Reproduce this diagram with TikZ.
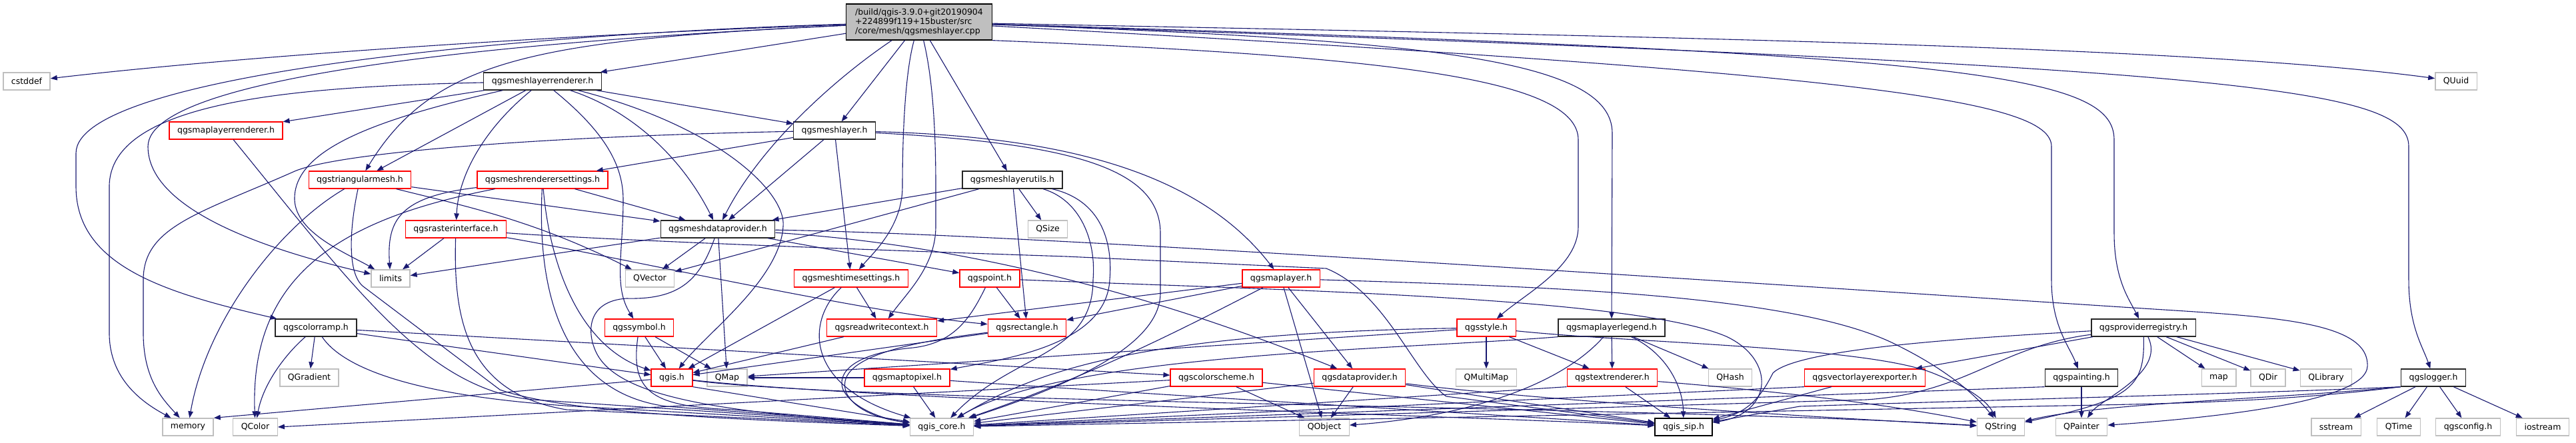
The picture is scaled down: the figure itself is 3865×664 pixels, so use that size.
\documentclass[tikz,border=0pt]{standalone}
\usepackage{fontspec}
\setmainfont{DejaVu Sans}
\usepackage{tikz}
\usetikzlibrary{arrows.meta}
\definecolor{incblue}{HTML}{191970}
\definecolor{extgray}{HTML}{BFBFBF}

\begin{document}
\begin{tikzpicture}[x=1pt,y=-1pt,
    hdr/.style={draw, line width=1.3pt, minimum height=26pt, inner xsep=12pt, inner ysep=0pt, font=\fontsize{12.5}{15}\selectfont},
    sysfile/.style={hdr, draw=extgray},
    docfile/.style={hdr, draw=black!85},
    cutfile/.style={hdr, draw=red},
    inc/.style={draw=incblue, line width=1.1pt, -{Triangle[length=10pt,width=7.5pt]}}]
  \useasboundingbox (0,0) rectangle (3865,664);

  \node[hdr, draw=black, fill=extgray, align=left, minimum width=219pt, minimum height=54pt, font=\fontsize{12.5}{14.3}\selectfont] (root) at (1379,33) {/build/qgis-3.9.0+git20190904\\+224899f119+15buster/src\\/core/mesh/qgsmeshlayer.cpp};

  \node[sysfile] (cstddef) at (40,122) {cstddef};
  \node[docfile] (mlrend) at (814,122) {qgsmeshlayerrenderer.h};
  \node[sysfile] (quuid) at (3685,122) {QUuid};
  \node[cutfile] (mapren) at (339,196) {qgsmaplayerrenderer.h};
  \node[docfile] (mlayer) at (1252,196) {qgsmeshlayer.h};
  \node[cutfile] (trimesh) at (540,270) {qgstriangularmesh.h};
  \node[cutfile] (rendset) at (814,270) {qgsmeshrenderersettings.h};
  \node[docfile] (mlutils) at (1519,270) {qgsmeshlayerutils.h};
  \node[cutfile] (rastif) at (684,344) {qgsrasterinterface.h};
  \node[docfile] (mdp) at (1077,344) {qgsmeshdataprovider.h};
  \node[sysfile] (qsize) at (1572,344) {QSize};
  \node[sysfile] (limits) at (586,418) {limits};
  \node[sysfile] (qvector) at (975,418) {QVector};
  \node[cutfile] (mts) at (1277,418) {qgsmeshtimesettings.h};
  \node[cutfile] (qpoint) at (1485,418) {qgspoint.h};
  \node[cutfile] (maplayer) at (1922,418) {qgsmaplayer.h};
  \node[docfile] (colorramp) at (474,492) {qgscolorramp.h};
  \node[cutfile] (symbol) at (959,492) {qgssymbol.h};
  \node[cutfile] (rwctx) at (1323,492) {qgsreadwritecontext.h};
  \node[cutfile] (rect) at (1541,492) {qgsrectangle.h};
  \node[cutfile] (style) at (2230,492) {qgsstyle.h};
  \node[docfile] (legend) at (2418,492) {qgsmaplayerlegend.h};
  \node[docfile] (provreg) at (3216,492) {qgsproviderregistry.h};
  \node[sysfile] (qgradient) at (464,567) {QGradient};
  \node[cutfile] (qgis) at (1008,567) {qgis.h};
  \node[sysfile] (qmap) at (1091,567) {QMap};
  \node[cutfile] (maptopix) at (1361,567) {qgsmaptopixel.h};
  \node[cutfile] (colorscheme) at (1825,567) {qgscolorscheme.h};
  \node[cutfile] (dataprov) at (2040,567) {qgsdataprovider.h};
  \node[sysfile] (qmultimap) at (2230,567) {QMultiMap};
  \node[cutfile] (textren) at (2419,567) {qgstextrenderer.h};
  \node[sysfile] (qhash) at (2596,567) {QHash};
  \node[cutfile] (vlexp) at (2798,567) {qgsvectorlayerexporter.h};
  \node[docfile] (painting) at (3123,567) {qgspainting.h};
  \node[sysfile] (mapstl) at (3329,567) {map};
  \node[sysfile] (qdir) at (3403,567) {QDir};
  \node[sysfile] (qlib) at (3490,567) {QLibrary};
  \node[docfile] (logger) at (3651,567) {qgslogger.h};
  \node[sysfile] (memory) at (282,641) {memory};
  \node[sysfile] (qcolor) at (383,641) {QColor};
  \node[sysfile] (qgiscore) at (1413,641) {qgis\_core.h};
  \node[sysfile] (qobject) at (1987,641) {QObject};
  \node[hdr, draw=black] (qgissip) at (2526,641) {qgis\_sip.h};
  \node[sysfile] (qstring) at (3002,641) {QString};
  \node[sysfile] (qpainter) at (3123,641) {QPainter};
  \node[sysfile] (sstream) at (3505,641) {sstream};
  \node[sysfile] (qtime) at (3599,641) {QTime};
  \node[sysfile] (qgsconfig) at (3703,641) {qgsconfig.h};
  \node[sysfile] (iostream) at (3815,641) {iostream};

  \foreach \a/\b in {root/mlrend, root/mlayer, root/mlutils,
      mlrend/mapren, mlrend/trimesh, mlrend/mlayer,
      mlayer/rendset, mlayer/mdp, mlayer/mts,
      trimesh/mdp, rendset/mdp, rastif/limits,
      mdp/qvector, mdp/qmap, mdp/qpoint, mdp/limits,
      mlutils/mdp, mlutils/qvector, mlutils/qsize, mlutils/rect,
      mts/rwctx, mts/qgis, qpoint/rect, rwctx/qgis, rect/qgis,
      symbol/qgis, symbol/qmap,
      colorramp/qgradient, colorramp/qgis, colorramp/colorscheme,
      maptopix/qgiscore, maptopix/qmap,
      colorscheme/qobject, colorscheme/qgiscore, colorscheme/qgissip,
      maplayer/rwctx, maplayer/rect, maplayer/qobject, maplayer/dataprov,
      style/qmultimap, style/textren, style/qmap,
      legend/textren, legend/qhash,
      dataprov/qobject, dataprov/qgiscore, dataprov/qgissip,
      textren/qgissip, vlexp/qgissip, painting/qpainter,
      provreg/vlexp, provreg/mapstl, provreg/qdir, provreg/qlib,
      logger/sstream, logger/qtime, logger/qgsconfig, logger/iostream}
    \draw[inc] (\a) -- (\b);

  \draw[inc] (root) .. controls (900,50) and (400,80) .. (cstddef);
  \draw[inc] (root) .. controls (800,50) and (114,110) .. (114,230) -- (114,280) .. controls (114,400) and (250,440) .. (colorramp);
  \draw[inc] (root) .. controls (800,60) and (222,110) .. (222,220) .. controls (222,320) and (420,380) .. (limits);
  \draw[inc] (root) .. controls (800,60) and (650,90) .. (trimesh);
  \draw[inc] (root) .. controls (1250,120) and (1140,220) .. (mdp);
  \draw[inc] (root) .. controls (1355,120) and (1354,240) .. (1354,280) .. controls (1354,340) and (1310,380) .. (mts);
  \draw[inc] (root) .. controls (1400,120) and (1404,200) .. (1404,280) -- (1404,340) .. controls (1404,400) and (1360,440) .. (rwctx);
  \draw[inc] (root.south east) .. controls (2100,85) and (2368,120) .. (2368,210) -- (2368,340) .. controls (2368,400) and (2290,440) .. (style);
  \draw[inc] (root) .. controls (2150,60) and (2419,90) .. (2419,200) -- (legend);
  \draw[inc] (root) .. controls (2800,110) and (3078,150) .. (3078,220) -- (3078,420) .. controls (3078,490) and (3105,520) .. (painting);
  \draw[inc] (root) .. controls (2950,80) and (3172,110) .. (3172,210) -- (3172,350) .. controls (3172,420) and (3195,450) .. (provreg);
  \draw[inc] (root) .. controls (3350,100) and (3614,130) .. (3614,220) -- (3614,420) .. controls (3614,490) and (3635,520) .. (logger);
  \draw[inc] (root) .. controls (2500,55) and (3300,70) .. (quuid);

  \draw[inc] (mlrend) .. controls (450,130) and (164,150) .. (164,280) -- (164,500) .. controls (164,570) and (215,605) .. (memory);
  \draw[inc] (mlrend) .. controls (560,180) and (440,225) .. (442,300) .. controls (444,350) and (520,380) .. (limits);
  \draw[inc] (mlrend) .. controls (730,190) and (688,260) .. (rastif);
  \draw[inc] (mlrend) .. controls (910,200) and (935,250) .. (935,300) .. controls (935,380) and (920,430) .. (symbol);
  \draw[inc] (mlrend) .. controls (960,170) and (1030,250) .. (mdp);
  \draw[inc] (mlrend) .. controls (1080,190) and (1180,290) .. (1175,340) .. controls (1170,420) and (1060,500) .. (qgis);

  \draw[inc] (mlayer) .. controls (800,205) and (500,230) .. (440,258) .. controls (300,320) and (215,340) .. (215,420) -- (215,500) .. controls (215,570) and (245,600) .. (memory);
  \draw[inc] (mlayer) .. controls (1600,205) and (1800,260) .. (maplayer);
  \draw[inc] (mlayer) .. controls (1600,215) and (1741,250) .. (1741,350) -- (1741,440) .. controls (1741,520) and (1600,580) .. (qgiscore);

  \draw[inc] (mapren) .. controls (530,430) and (640,585) .. (800,600) -- (qgiscore);
  \draw[inc] (trimesh) .. controls (420,340) and (310,480) .. (memory);
  \draw[inc] (trimesh) .. controls (525,340) and (520,410) .. (545,430) -- (750,585) .. controls (850,620) and (1100,630) .. (qgiscore);
  \draw[inc] (trimesh) .. controls (700,310) and (800,330) .. (qvector);

  \draw[inc] (rendset) .. controls (600,295) and (580,330) .. (limits);
  \draw[inc] (rendset) .. controls (500,330) and (375,420) .. (qcolor);
  \draw[inc] (rendset) .. controls (825,400) and (870,520) .. (qgis);
  \draw[inc] (rendset) .. controls (805,450) and (850,590) .. (1000,610) -- (qgiscore);

  \draw[inc] (rastif) .. controls (680,480) and (700,590) .. (850,615) -- (qgiscore);
  \draw[inc] (rastif) .. controls (900,380) and (1300,470) .. (rect);
  \draw[inc] (rastif) .. controls (900,360) and (1300,375) .. (1600,385) -- (1990,403) .. controls (2080,440) and (2120,560) .. (2170,595) -- (qgissip);

  \draw[inc] (mdp) .. controls (1050,420) and (1020,450) .. (940,448) .. controls (880,452) and (880,500) .. (895,530) .. controls (930,600) and (1100,620) .. (qgiscore);
  \draw[inc] (mdp) .. controls (1500,370) and (1800,470) .. (dataprov);
  \draw[inc] (mdp) .. controls (1500,350) and (2400,410) .. (3200,462) .. controls (3400,475) and (3555,480) .. (3552,550) .. controls (3550,600) and (3350,625) .. (qpainter);

  \draw[inc] (mlutils) .. controls (1620,300) and (1645,360) .. (1640,420) .. controls (1640,535) and (1520,530) .. (qgiscore);
  \draw[inc] (mlutils) .. controls (1650,300) and (1670,360) .. (1665,420) .. controls (1660,520) and (1500,540) .. (maptopix);

  \draw[inc] (mts) .. controls (1210,480) and (1205,580) .. (qgiscore);
  \draw[inc] (qpoint) .. controls (1455,480) and (1430,515) .. (1370,522) .. controls (1280,530) and (1255,560) .. (1265,585) .. controls (1280,615) and (1330,630) .. (qgiscore);
  \draw[inc] (qpoint) .. controls (1900,435) and (2450,445) .. (2590,505) .. controls (2665,540) and (2660,620) .. (qgissip);
  \draw[inc] (rect) .. controls (1350,515) and (1250,540) .. (1270,590) .. controls (1285,620) and (1330,630) .. (qgiscore);
  \draw[inc] (symbol) .. controls (945,590) and (980,610) .. (1100,615) -- (qgiscore);

  \draw[inc] (qgis) -- (memory.north east);
  \draw[inc] (qgis.south east) -- (qgiscore);
  \draw[inc] (qgis) .. controls (1300,605) and (2500,610) .. (qstring);
  \draw[inc] (qgis) .. controls (1300,600) and (2200,625) .. (qgissip);
  \draw[inc] (maptopix) .. controls (1700,590) and (2200,620) .. (qgissip);

  \draw[inc] (colorramp) .. controls (430,530) and (395,575) .. (qcolor);
  \draw[inc] (colorramp) .. controls (520,560) and (650,600) .. (900,612) -- (qgiscore);
  \draw[inc] (colorscheme) -- (qcolor.east);

  \draw[inc] (maplayer) .. controls (1800,480) and (1650,560) .. (qgiscore);
  \draw[inc] (maplayer) .. controls (2300,430) and (2700,440) .. (2850,520) .. controls (2930,560) and (2970,600) .. (qstring);
  \draw[inc] (style) .. controls (1700,500) and (1550,560) .. (qgiscore);
  \draw[inc] (style) .. controls (2450,515) and (2800,520) .. (2900,560) .. controls (2950,580) and (2980,600) .. (qstring);

  \draw[inc] (legend) .. controls (2340,580) and (2200,625) .. (qobject);
  \draw[inc] (legend) .. controls (2500,530) and (2525,580) .. (qgissip);
  \draw[inc] (legend.south west) .. controls (2100,525) and (1600,530) .. (qgiscore);

  \draw[inc] (dataprov) .. controls (2300,600) and (2700,625) .. (qstring);
  \draw[inc] (textren.south west) -- (qgiscore);
  \draw[inc] (textren) .. controls (2700,590) and (2850,610) .. (qstring);
  \draw[inc] (vlexp.south west) -- (qgiscore);
  \draw[inc] (painting.south west) -- (qgiscore);

  \draw[inc] (provreg) .. controls (3218,580) and (3200,600) .. (qstring);
  \draw[inc] (provreg) .. controls (3250,560) and (3150,600) .. (qpainter);
  \draw[inc] (provreg) .. controls (3000,505) and (2700,520) .. (2660,560) .. controls (2640,600) and (2620,620) .. (qgissip);
  \draw[inc] (provreg) .. controls (3000,520) and (2950,590) .. (2800,600) -- (qgiscore);

  \draw[inc] (logger.south west) .. controls (3450,600) and (3300,605) .. (3150,608) -- (qgiscore);
  \draw[inc] (logger.south west) .. controls (3400,600) and (3150,605) .. (qstring);
  \draw[inc] (logger.south west) .. controls (3400,590) and (3000,600) .. (2700,610) -- (qgissip);
\end{tikzpicture}
\end{document}
